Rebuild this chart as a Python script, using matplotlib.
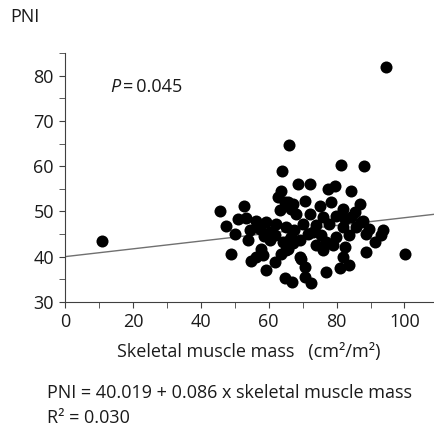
import numpy as np
import matplotlib
matplotlib.use('Agg')
import matplotlib.pyplot as plt
from matplotlib.ticker import MultipleLocator

plt.rcParams['font.family'] = ['Open Sans', 'DejaVu Sans']

# skeletal muscle mass (cm2/m2) vs PNI
muscle = [10.9, 94.6, 100.3,
          65.9, 63.9, 81.2, 88.1,
          68.6, 72.3, 77.5, 79.4, 84.3, 63.5,
          62.8, 65.7, 63.3, 66.7, 64.7,
          67.2, 70.6, 75.0, 78.4, 81.9, 86.8, 85.3,
          68.1, 72.1, 76.0, 79.9, 84.3, 87.7, 82.4,
          70.1, 74.0, 77.9, 81.9, 85.8, 89.7, 87.3,
          67.6, 71.6, 75.5, 79.9, 83.8, 88.7, 65.2,
          69.1, 77.0, 66.7, 66.2, 64.2,
          93.6, 93.2, 91.2, 88.7, 83.8, 80.9, 77.0, 81.9, 82.4, 78.9, 76.0, 74.0,
          67.2, 65.2, 69.6, 70.6, 69.1, 70.6, 72.6, 67.0, 64.7, 65.7, 63.7, 73.0,
          45.8, 52.7, 47.5, 51.0, 53.4, 56.4, 59.3, 62.3, 50.0, 54.4, 57.4,
          53.9, 60.3, 48.8, 57.8, 56.4, 54.9, 58.3, 61.8, 59.3,
          60.5, 62.0, 58.5]
pni = [43.4, 81.9, 40.7,
       64.7, 59.0, 60.3, 60.0,
       56.1, 56.1, 55.0, 55.7, 54.6, 54.6,
       53.1, 52.0, 50.4, 50.6, 52.0,
       51.7, 52.4, 51.3, 52.0, 50.6, 51.7, 49.8,
       49.5, 49.5, 48.7, 49.1, 48.7, 48.0, 48.4,
       47.3, 46.9, 47.3, 46.6, 46.6, 46.2, 47.6,
       45.8, 45.1, 44.7, 44.4, 44.7, 45.1, 46.6,
       43.6, 43.3, 44.4, 44.0, 43.3,
       45.8, 44.8, 43.3, 41.1, 38.1, 37.4, 36.7, 40.0, 42.2, 42.5, 41.4, 42.5,
       43.0, 41.4, 39.6, 37.8, 40.0, 35.6, 34.1, 34.5, 35.2, 41.8, 40.7, 45.5,
       50.0, 51.1, 46.8, 48.4, 48.5, 48.0, 47.6, 47.3, 45.1, 45.8, 46.2,
       43.6, 43.6, 40.5, 41.8, 40.0, 39.0, 40.3, 38.9, 37.0,
       45.5, 44.8, 44.5]

intercept = 40.019
slope = 0.086

fs = 13
ink = '#1a1a1a'

fig = plt.figure(figsize=(4.35, 4.28), dpi=100)
ax = fig.add_axes([65 / 435, 126 / 428, 370 / 435, 249 / 428])

ax.scatter(muscle, pni, s=75, color='black', zorder=3, linewidths=0)
xs = np.array([0, 109])
ax.plot(xs, intercept + slope * xs, color='#707070', lw=1, zorder=2)

ax.set_xlim(0, 109)
ax.set_ylim(30, 85)
ax.xaxis.set_major_locator(MultipleLocator(20))
ax.xaxis.set_minor_locator(MultipleLocator(10))
ax.yaxis.set_major_locator(MultipleLocator(10))
ax.yaxis.set_minor_locator(MultipleLocator(5))
for s in ['top', 'right']:
    ax.spines[s].set_visible(False)
for s in ['left', 'bottom']:
    ax.spines[s].set_color('#404040')
ax.tick_params(which='both', direction='out', length=4, color='#404040',
               labelsize=fs, labelcolor=ink, pad=4)

t = ax.text(13.2, 77.6, 'P', style='italic', fontsize=fs, va='center', color=ink)
ax.annotate('\u2009=\u20090.045', xy=(1, 0.5), xycoords=t, va='center',
            fontsize=fs, color=ink)

fig.text(10 / 435, 1 - 17 / 428, 'PNI', fontsize=fs, va='center', color=ink)
fig.text(249 / 435, 1 - 352 / 428, 'Skeletal muscle mass   (cm\u00b2/m\u00b2)',
         fontsize=fs, ha='center', va='center', color=ink)
fig.text(47 / 435, 1 - 393 / 428,
         'PNI = 40.019 + 0.086 x skeletal muscle mass',
         fontsize=fs, va='center', color=ink)
fig.text(47 / 435, 1 - 418 / 428, 'R\u00b2 = 0.030', fontsize=fs, va='center',
         color=ink)

fig.savefig('out.png', dpi=100)
